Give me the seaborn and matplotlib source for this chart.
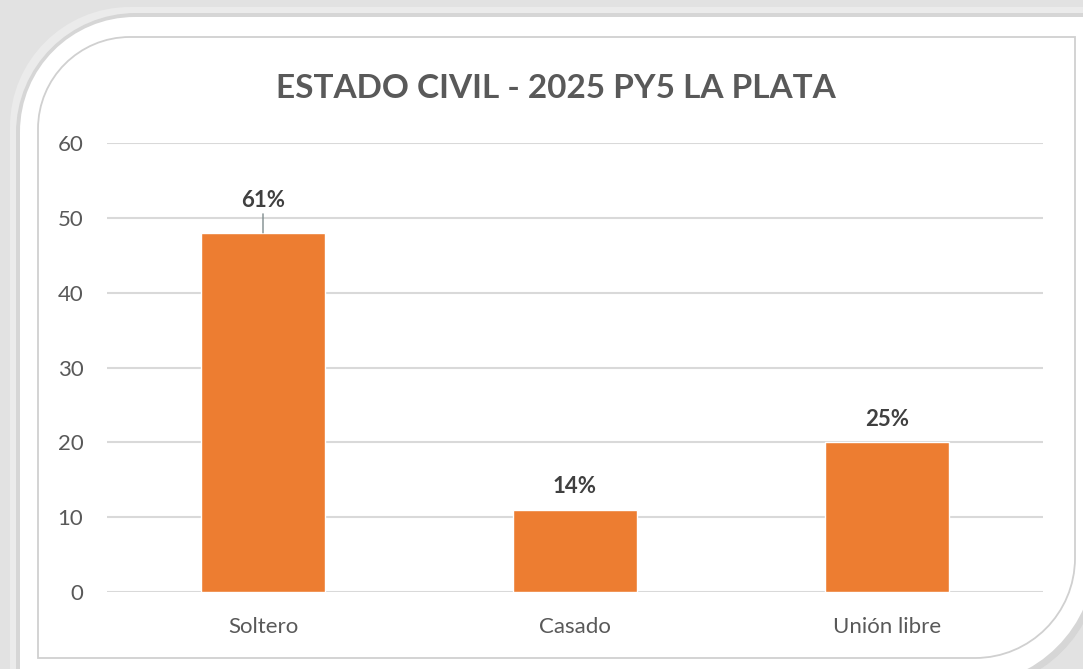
import matplotlib
matplotlib.use("Agg")
import matplotlib.pyplot as plt
import seaborn as sns
import pandas as pd
from matplotlib.path import Path
from matplotlib.patches import PathPatch

categories = ["Soltero", "Casado", "Unión libre"]
values = [48, 11, 20]
pct_labels = ["61%", "14%", "25%"]
title = "ESTADO CIVIL - 2025 PY5 LA PLATA"
yticks = [0, 10, 20, 30, 40, 50, 60]

sns.set_theme(style="white")
plt.rcParams["font.family"] = ["Lato", "DejaVu Sans"]

W, H = 1083, 669
fig = plt.figure(figsize=(W / 100, H / 100), dpi=100)
fig.patch.set_facecolor("#e2e2e2")

K = 0.5523


def frame_path(x0, y0, x1, y1, r_tl, r_br):
    def p(x, y):
        return (x, H - y)
    verts = [
        p(x0 + r_tl, y0), p(x1, y0), p(x1, y1 - r_br),
        p(x1, y1 - r_br + K * r_br), p(x1 - r_br + K * r_br, y1), p(x1 - r_br, y1),
        p(x0, y1), p(x0, y0 + r_tl),
        p(x0, y0 + r_tl - K * r_tl), p(x0 + r_tl - K * r_tl, y0), p(x0 + r_tl, y0),
        p(x0 + r_tl, y0),
    ]
    codes = [Path.MOVETO, Path.LINETO, Path.LINETO,
             Path.CURVE4, Path.CURVE4, Path.CURVE4,
             Path.LINETO, Path.LINETO,
             Path.CURVE4, Path.CURVE4, Path.CURVE4,
             Path.CLOSEPOLY]
    return Path(verts, codes)


# soft shadow bands
for off, col in [(10, "#ebebeb"), (4, "#d6d6d6")]:
    fig.add_artist(PathPatch(frame_path(20 - off, 17 - off, 1100, 690, 120, 130),
                             facecolor=col, edgecolor="none", transform=None, zorder=-3))
fig.add_artist(PathPatch(frame_path(20, 17, 1095, 685, 115, 130),
                         facecolor="white", edgecolor="none", transform=None, zorder=-2))
fig.add_artist(PathPatch(frame_path(38, 37, 1075, 658, 92, 100),
                         facecolor="none", edgecolor="#d0d0d0", lw=1.3, transform=None, zorder=-1))

ax = fig.add_axes([107 / W, 1 - 592 / H, (1043 - 107) / W, (592 - 143) / H])
ax.set_facecolor("none")

df = pd.DataFrame({"cat": categories, "val": values})
sns.barplot(data=df, x="cat", y="val", color="#ED7D31", width=0.4, saturation=1,
            ax=ax, zorder=3)

ax.set_ylim(0, 60)
ax.set_xlim(-0.5, 2.5)
ax.set_yticks(yticks)
ax.yaxis.grid(True, color="#d9d9d9", lw=1.5, zorder=0)
ax.set_axisbelow(True)
for s in ax.spines.values():
    s.set_visible(False)
ax.tick_params(axis="both", length=0, colors="#595959", labelsize=16)
ax.tick_params(axis="y", pad=17)
ax.tick_params(axis="x", pad=18)
ax.set_xlabel("")
ax.set_ylabel("")

for i, (v, lab) in enumerate(zip(values, pct_labels)):
    if i == 0:
        ax.annotate(lab, xy=(i, v), xytext=(0, 16), textcoords="offset points",
                    ha="center", va="bottom", fontsize=16, fontweight="bold", color="#404040",
                    arrowprops=dict(arrowstyle="-", color="#7f8c8d", lw=1, shrinkA=0, shrinkB=0))
    else:
        ax.annotate(lab, xy=(i, v), xytext=(0, 9), textcoords="offset points",
                    ha="center", va="bottom", fontsize=16, fontweight="bold", color="#404040")

fig.text(556 / W, 1 - 88 / H, title, ha="center", va="center", fontsize=24,
         fontweight="bold", color="#595959")

fig.savefig("out.png", dpi=100, facecolor=fig.get_facecolor())
